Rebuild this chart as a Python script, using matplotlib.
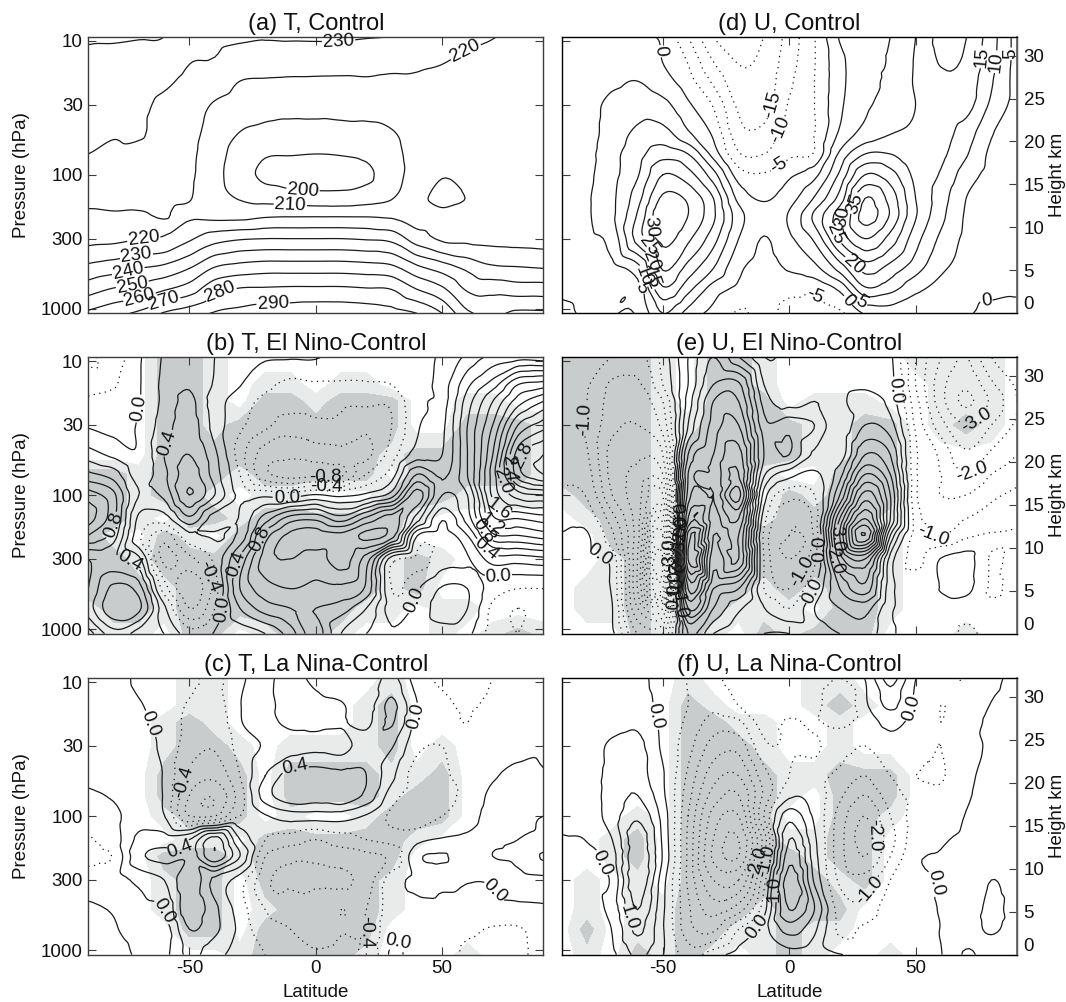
import numpy as np
import matplotlib
matplotlib.use('Agg')
import matplotlib.pyplot as plt
from matplotlib.tri import Triangulation, UniformTriRefiner, CubicTriInterpolator

plt.rcParams['font.family'] = ['Liberation Sans', 'DejaVu Sans']

# grid of the fields (one list per latitude)
lats = [-90, -80, -70, -60, -50, -40, -30, -20, -10, 0, 10, 20, 30, 40, 50, 60, 70, 80, 90]
plevs = [9.33, 15, 20, 30, 50, 70, 100, 150, 200, 300, 500, 700, 1082]

t_control = [
    [241, 238, 237, 235, 232, 230, 227, 222, 219, 217.5, 233, 245, 262],
    [241, 237, 235.5, 233.5, 230.5, 228.5, 226, 222, 219.5, 218, 236, 250, 267],
    [240.5, 236, 234, 232, 231, 227, 225, 222, 219.5, 219.8, 240, 253, 272],
    [240, 235.5, 232, 228, 226, 225, 224, 222, 220.3, 221, 243, 258, 281],
    [233, 230, 227.5, 225, 223, 222, 221.5, 220.5, 218.5, 228.5, 250, 264, 286],
    [233, 229, 226, 219, 215.5, 214, 213, 213.5, 216.5, 236, 261, 276, 291],
    [232, 224, 220, 215, 209.5, 206, 205, 209.5, 216, 239, 264.5, 280, 293],
    [230.8, 225, 219, 213, 207.5, 201, 197.5, 207, 218, 240, 266, 280.5, 295],
    [231, 224.5, 218.5, 212.5, 207, 200.5, 196, 205, 218.5, 240, 266, 281, 296],
    [231.2, 224, 218.5, 212.5, 207, 200, 196, 204, 218.5, 240, 266, 281, 297],
    [231.2, 223.5, 218.5, 213, 207, 200.5, 196, 204, 218.5, 240, 266, 281, 297],
    [230.5, 223, 219, 213.5, 207, 202, 198, 206, 218.5, 239, 265, 280, 296],
    [229.8, 222, 218.5, 215, 209, 207, 206, 209.5, 218, 237, 263, 279, 294],
    [227, 221, 219, 216.5, 214, 213.5, 214, 218, 216.5, 225, 253, 269, 290],
    [224, 220, 218.5, 216.5, 215.5, 216, 219.5, 221.5, 219, 218.5, 246, 261, 280],
    [221.5, 218.5, 217.5, 216.5, 216, 216, 217, 219.8, 219, 218, 238, 248, 262],
    [220.2, 218, 217, 216.5, 216, 216, 216.5, 217.5, 217.5, 217.5, 232, 246, 258],
    [219, 217.5, 216.5, 216, 216, 216, 216, 216.5, 217, 217, 231, 244, 262],
    [218.5, 217, 216.5, 216, 216, 216, 216, 216, 216.5, 216.5, 230, 244, 262],
]

u_control = [
    [2, 2, 2, 2, 2, 2, 2.5, 3, 3, 2.5, 1.5, 0.5, -0.5],
    [3, 3, 3, 3, 3, 3.5, 4, 4.5, 4.5, 4, 2.5, 0.8, 0.3],
    [3, 3.5, 4, 6.5, 7.5, 8.5, 8.5, 9, 9, 7, 3.5, 1, 0.1],
    [1, 3, 5, 8, 11, 13, 14.5, 18, 20.5, 22, 8, 3, 0.5],
    [-1, 0.1, 2, 6.5, 12, 18, 25, 31, 34, 31.5, 25.5, 19.5, 10],
    [-10, -5, -3, 0.8, 6, 15, 22, 29, 30, 26, 18, 12, 3],
    [-20, -14.5, -11, -5.5, -0.8, 3, 12, 20, 21, 17, 10, 3, -1.5],
    [-24, -20, -18.5, -16, -13, -9.5, -2.5, 3.5, 7, 5, 1, -1, -5.5],
    [-20, -18.5, -18, -17, -13.5, -10, -4.5, -0.5, 1.5, -0.2, -1.5, -2.5, -3.5],
    [-13, -12, -11, -9.5, -7.5, -6, -1, 3, 5.5, 4, 0.5, -3.5, -6.5],
    [-5.2, -5.2, -5, -5, -5, -4.5, 3.5, 10.5, 16, 11, 3.5, -3.5, -7],
    [5.5, 3.5, 3.5, 4, 6, 11, 16, 22, 28, 26, 12, 1.5, -6],
    [9, 8.5, 8.5, 9, 12, 20, 30, 40, 42, 35, 22, 14.5, 0.5],
    [10, 10.5, 11, 12, 15, 20, 27, 33, 34.5, 28, 18, 12, 2],
    [15, 15.5, 15.5, 15, 15.5, 16, 18.5, 20, 20.5, 17, 12, 6.5, 0.2],
    [21.5, 20.2, 18.5, 17.5, 16.5, 16, 14.5, 12.5, 11.5, 9, 6, 3.5, 0.5],
    [20.1, 19, 18, 17, 12.5, 10.5, 7.5, 5, 4.5, 4, 3, 1.5, 0.4],
    [12, 11.5, 10.5, 9, 5.3, 4, 3.5, 3, 3, 2.5, 2, 1, -1],
    [3, 3, 3, 3, 3, 2.5, 2.5, 2.5, 2.5, 2, 1.5, 0.5, -0.8],
]

t_elnino = [
    [-0.15, -0.3, -0.15, -0.02, 0.3, 0.65, 1.1, 1.3, 1.0, 0.4, 0.4, 0.5, 0.1],
    [-0.3, -0.22, -0.1, -0.05, 0.15, 0.5, 0.85, 0.85, 0.7, 0.45, 0.85, 0.95, 0.5],
    [-0.03, -0.02, -0.01, 0.02, 0.03, 0.1, 0.2, -0.05, -0.15, 0.25, 0.7, 0.85, 0.3],
    [0.22, 0.25, 0.25, 0.3, 0.4, 0.35, 0.25, -0.1, -0.5, -0.65, -0.3, 0.05, 0.2],
    [0.3, 0.38, 0.45, 0.5, 0.6, 0.7, 0.8, 0.35, -0.05, -0.45, -0.75, -0.6, -0.1],
    [0.2, 0.18, 0.1, 0.12, 0.25, 0.3, 0.4, -0.1, 0.02, -0.15, -0.3, -0.2, 0.02],
    [0.02, 0.01, -0.1, -0.15, -0.3, -0.2, -0.05, 0.02, 0.05, 0.45, 0.6, 0.4, 0.05],
    [0.02, -0.15, -0.25, -0.35, -0.7, -0.75, -0.05, 0.5, 0.9, 1.1, 0.9, 0.7, 0.2],
    [0.02, -0.25, -0.3, -0.5, -0.75, -0.9, -0.1, 0.9, 1.25, 1.2, 1.0, 0.8, 0.5],
    [0.02, -0.22, -0.3, -0.45, -0.7, -0.85, 0.02, 0.95, 1.3, 1.1, 0.95, 0.8, 0.9],
    [-0.1, -0.22, -0.35, -0.45, -0.65, -0.85, -0.05, 0.7, 1.25, 1.3, 0.95, 0.7, 0.4],
    [-0.1, -0.22, -0.35, -0.55, -0.65, -0.4, 0.05, 1.05, 1.45, 0.9, 0.75, 0.4, 0.2],
    [-0.05, -0.2, -0.35, -0.4, -0.3, -0.1, 0.3, 1.3, 1.3, -0.1, -0.2, -0.1, 0.02],
    [-0.1, -0.1, -0.05, -0.03, 0.1, 0.6, 1.1, 0.7, 0.02, -0.25, -0.02, 0.05, 0.05],
    [0.05, 0.1, 0.1, 0.15, 0.2, 0.35, 0.4, 0.02, -0.1, -0.1, 0.22, 0.3, 0.1],
    [0.25, 0.55, 0.7, 0.8, 0.8, 0.8, 0.6, 0.5, 0.2, -0.02, 0.2, 0.2, 0.05],
    [0.45, 0.9, 1.2, 1.4, 1.6, 1.7, 1.65, 1.35, 0.95, 0.3, -0.1, -0.25, -0.3],
    [0.5, 1.4, 1.7, 2.2, 2.7, 2.7, 2.1, 1.4, 1.0, 0.3, -0.2, -0.4, -0.4],
    [0.45, 1.5, 2.0, 2.5, 3.0, 3.0, 2.2, 1.5, 1.1, 0.35, -0.2, -0.3, -0.25],
]

t_lanina = [
    [0.1, 0.1, 0.1, 0.1, 0.05, -0.03, -0.1, -0.22, -0.25, -0.1, 0.03, 0.05, 0.02],
    [0.1, 0.1, 0.1, 0.1, 0.08, 0.02, -0.05, -0.1, -0.18, -0.08, -0.01, 0.01, 0.05],
    [-0.05, 0.02, 0.05, 0.08, 0.1, 0.1, 0.1, 0.25, 0.35, 0.05, -0.05, -0.05, -0.02],
    [-0.15, -0.1, -0.08, -0.05, -0.02, -0.02, 0.01, 0.3, 0.45, 0.2, 0.01, -0.1, -0.05],
    [-0.15, -0.22, -0.25, -0.3, -0.45, -0.6, -0.6, 0.4, 0.45, 0.55, 0.55, 0.4, 0.25],
    [-0.25, -0.3, -0.35, -0.38, -0.55, -0.78, -0.6, 0.9, 0.95, 0.15, 0.25, 0.25, 0.05],
    [-0.05, -0.01, -0.02, -0.12, -0.2, -0.3, -0.2, 0.2, 0.4, -0.1, -0.1, -0.05, -0.05],
    [0.15, 0.15, 0.12, 0.02, 0.2, 0.3, -0.02, -0.2, -0.4, -0.55, -0.4, -0.35, -0.2],
    [0.25, 0.25, 0.25, 0.1, 0.5, 0.55, 0.1, -0.3, -0.55, -0.62, -0.5, -0.4, -0.35],
    [0.15, 0.25, 0.25, 0.15, 0.5, 0.52, 0.1, -0.4, -0.55, -0.65, -0.42, -0.58, -0.35],
    [0.05, 0.22, 0.22, 0.12, 0.45, 0.58, 0.1, -0.3, -0.5, -0.65, -0.4, -0.42, -0.3],
    [0.05, 0.1, 0.15, 0.3, 0.4, 0.35, -0.02, -0.2, -0.45, -0.5, -0.4, -0.4, -0.4],
    [0.25, 0.45, 0.42, 0.22, 0.05, -0.1, -0.25, -0.15, -0.35, -0.1, -0.1, -0.05, 0.03],
    [-0.1, 0.01, -0.05, -0.15, -0.3, -0.3, -0.35, -0.05, 0.15, 0.05, -0.05, -0.1, -0.1],
    [-0.25, -0.15, -0.15, -0.2, -0.25, -0.25, -0.2, 0.02, 0.22, 0.05, -0.05, -0.1, -0.05],
    [-0.3, -0.22, -0.2, -0.15, -0.08, -0.15, -0.1, 0.05, 0.08, 0.01, -0.05, -0.15, -0.25],
    [-0.2, -0.15, -0.1, -0.05, -0.02, 0.05, 0.1, 0.15, 0.2, 0.02, -0.05, -0.22, -0.3],
    [-0.1, -0.05, -0.03, -0.05, 0.05, 0.1, 0.15, 0.2, 0.25, 0.12, -0.05, -0.22, -0.25],
    [-0.05, -0.02, -0.02, -0.02, 0.01, 0.05, 0.2, 0.25, 0.42, 0.15, -0.03, -0.1, -0.1],
]

u_elnino = [
    [-0.6, -0.7, -0.8, -0.8, -0.7, -0.6, -0.4, -0.15, 0.03, 0.1, 0.1, 0.05, 0.02],
    [-0.8, -0.95, -1.0, -1.05, -0.95, -0.8, -0.55, -0.2, 0.05, 0.1, 0.3, 0.4, 0.1],
    [-1.0, -1.6, -1.7, -1.85, -2.2, -2.2, -2.0, -1.3, -0.9, -0.2, -0.1, 0.02, 0.1],
    [-1.2, -1.6, -1.75, -2.0, -2.4, -2.6, -2.8, -2.8, -2.8, -3, -3, -2.5, -1.5],
    [-0.3, -0.5, -1, -1.3, -2, -2.5, -3.5, -4.8, -5.5, -6, -5.5, -3, -1.5],
    [1.0, 1, 1.2, 1.5, 2.5, 3.0, 3.2, 4, 5.2, 5.5, 4, 3, 1.5],
    [2, 2.5, 3, 3.2, 3.5, 3.6, 3.5, 3.3, 3, 2.7, 2.0, 1.5, 0.5],
    [1.0, 2.6, 3, 3.5, 4.2, 4.5, 5.2, 4, 3.5, 3.5, 1.5, 0.6, 0.2],
    [0.02, 0.5, 0.8, 1.2, 1.5, 1.1, 0.3, -0.3, -0.6, -0.5, -0.5, 0.02, 0.5],
    [0.2, 0.2, 0.3, 1.3, 1.5, 0.2, -0.8, -1.4, -1.5, -1.5, -1.0, -0.5, 0.5],
    [0.3, 0.2, 0.5, 1.0, 0.4, -0.1, -0.5, -0.8, -0.9, -0.6, 0.02, 0.5, 0.3],
    [0.2, 0.3, 0.4, 0.1, 0.2, 0.8, 1.5, 3.0, 3.5, 2.7, 1.5, 1.0, 0.5],
    [0.5, 0.4, 0.8, 1.0, 2.0, 3.0, 4.2, 5.5, 6.5, 3.5, 2.3, 1.2, 0.8],
    [0.1, 0.2, 0.3, 0.7, 1.5, 2, 2.5, 2.5, 1.5, 0.3, 0.2, 0.1, 0.1],
    [-1.5, -1.5, -1.3, -1.1, -0.9, -0.9, -0.9, -0.7, -0.7, -0.6, -0.3, -0.2, -0.2],
    [-2.5, -2.8, -2.8, -2.3, -1.6, -1.5, -1.5, -1.1, -1, 0.02, 0.02, -0.2, -0.1],
    [-3, -3.4, -3.6, -3.0, -2.4, -2, -1.5, -1, -0.6, 0.2, 0.15, -0.3, -0.6],
    [-2.0, -2.6, -2.9, -2.5, -1.9, -1.5, -1.1, -0.8, -0.45, -0.55, -0.55, -0.4, -0.3],
    [-1.5, -1.9, -2, -1.9, -1.5, -1.2, -0.9, -0.7, -0.4, -0.3, -0.3, -0.2, -0.1],
]

u_lanina = [
    [0.1, 0.1, 0.1, 0.1, 0.1, 0.1, 0.1, -0.03, -0.1, -0.1, -0.1, -0.1, -0.15],
    [0.15, 0.15, 0.15, 0.2, 0.25, 0.25, 0.2, 0.02, -0.1, -0.15, -0.2, -0.2, -0.1],
    [0.2, 0.25, 0.3, 0.6, 0.65, 0.7, 0.75, 0.5, 0.3, 0.1, 0.2, 0.02, -0.1],
    [0.2, 0.3, 0.4, 0.65, 0.7, 1.0, 1.4, 1.8, 1.95, 1.9, 1.5, 1.1, 0.6],
    [-0.3, -0.2, -0.15, -0.1, 0.05, 0.1, 0.3, 0.4, 0.45, 0.2, 0.1, 0.05, 0.02],
    [-0.5, -0.5, -0.6, -0.8, -1.1, -1.3, -1.5, -1.6, -1.6, -1.6, -1.4, -1.3, -0.7],
    [-0.6, -0.9, -1.2, -1.7, -2.3, -2.7, -3.2, -3.5, -3.6, -3.0, -2.2, -1.6, -0.2],
    [-0.2, -0.5, -1.1, -1.8, -2.5, -3, -3.5, -4, -4, -3, -1.7, -0.5, 0.2],
    [-0.15, -0.2, -0.3, -0.6, -1.2, -1.4, -1, -1.8, -1.5, -0.7, -0.2, 0.3, 0.1],
    [-0.15, -0.3, -0.55, -0.55, -0.5, -0.1, 0.8, 1.5, 1.8, 2.3, 2.0, 1.2, 0.3],
    [-0.15, -0.3, -0.45, -0.55, -0.4, -0.2, -0.1, 0.1, 0.2, 0.4, 1.0, 0.6, 0.2],
    [-0.5, -1, -0.6, -0.35, -0.6, -0.9, -1.2, -1.3, -1.3, -1.1, -0.7, -0.6, 0.02],
    [0.02, -0.1, -0.3, -0.5, -1.0, -1.5, -2, -2.2, -2.0, -1.3, -0.8, -0.4, -0.1],
    [1.2, 0.6, 0.15, -0.2, -0.5, -0.7, -1, -1.2, -1, -0.5, -0.2, -0.1, -0.05],
    [0.02, -0.1, -0.2, -0.3, -0.5, -0.4, -0.3, -0.2, -0.1, -0.1, -0.1, -0.1, -0.1],
    [-0.4, -0.5, -0.5, -0.5, -0.55, -0.4, -0.3, -0.05, 0.02, 0.02, 0.02, 0.01, -0.02],
    [-0.5, -0.3, -0.25, -0.15, -0.1, -0.05, 0.02, 0.1, 0.1, 0.15, 0.2, 0.3, 0.55],
    [-0.1, 0.02, 0.1, 0.05, 0.1, 0.1, 0.15, 0.2, 0.25, 0.5, 0.6, 0.55, 0.3],
    [0.1, 0.1, 0.1, 0.1, 0.1, 0.15, 0.2, 0.2, 0.2, 0.3, 0.3, 0.3, 0.2],
]

# significance: 0 none, 1 light, 2 dark (one string per pressure level, one digit per latitude)
sig_t_elnino = ["0002210000000000000", "0002210110110000000", "0002210221222001100",
                "0002212222222002221", "0002222222221222221", "2212221222220222221",
                "2212210110002221111", "2210221222222100000", "2102102222222000000",
                "2212222222221210000", "2221222222221200000", "1221222222211011000",
                "1110220122100010121"]
sig_t_lanina = ["0000110000001000000", "0000110000012000000", "0001210000012000000",
                "0001221011112010000", "0002222022221120000", "0002222022221220000",
                "0001222010012220000", "0000110222222100000", "0002221222222000000",
                "0001220222221000000", "0001220122221000000", "0000220222220000000",
                "0000001222210001000"]
sig_u_elnino = ["2222102210000011110", "2222102210000001110", "2222102220111001110",
                "2222112222112201210", "2222122222112200000", "2222122210022200000",
                "1222122202122200000", "0122122212222100000", "0022122222222100000",
                "0012122222222100000", "0112122212122100000", "0112122111022100000",
                "0002121021222000100"]
sig_u_lanina = ["0000010000110000000", "0000021000121000000", "0000022110010000000",
                "0000022210010000000", "0000022221122200000", "0000022221022200000",
                "0001022220022100000", "0012022221122000000", "0012022222122000000",
                "0101022222212000000", "0101122212220000000", "0201122112110000000",
                "0102121012100100000"]

# contour labels: level, latitude, pressure
labels_a = [(230, 9, 10), (220, 60, 12.8), (200, -5, 126), (210, -10, 160), (220, -68, 316),
            (230, -71, 400), (240, -74.5, 500), (250, -73, 600), (260, -70, 790), (270, -60, 890),
            (280, -37, 820), (290, -17, 860)]
labels_d = [(0, -51.5, 12), (15, 76, 13.2), (10, 81, 14.3), (5, 86, 12.5), (-15, -9.7, 29),
            (-10, -5.8, 45), (-5, -4.3, 85), (-5, 11, 746), (0, 23.5, 861), (5, 29.5, 861),
            (20, 26, 459), (25, 21.5, 259), (30, 20, 205), (35, 25.5, 163), (0, 78, 861),
            (5, -64, 767), (10, -61, 593), (15, -56, 628), (20, -55.5, 446), (25, -55.5, 335),
            (30, -54.4, 244)]
labels_b = [(0.0, -68.2, 23), (0.4, -57, 42), (0.8, -79.4, 171), (0.4, -72.8, 286), (-0.4, -42.5, 405),
            (0.0, -36, 720), (0.4, -34.6, 315), (0.8, -20.7, 217), (0.0, -11.5, 102), (-0.8, 3.7, 72),
            (-0.4, 4.3, 82), (0.0, 42.6, 640), (0.0, 73, 460), (0.4, 65.7, 272), (0.8, 65, 190),
            (1.2, 70.3, 162), (1.6, 71, 135), (2.0, 73, 80), (2.4, 76, 63), (2.8, 80.6, 49)]
labels_c = [(0.0, -67.2, 21), (-0.4, -53.5, 55), (0.4, -8.2, 45), (0.0, 39.3, 18), (0.4, -53, 179),
            (0.0, -58.3, 490), (-0.4, 20, 741), (0.0, 34.7, 722), (0.0, 74.3, 336)]
labels_e = [(-1.0, -82.7, 27), (0.0, -74.8, 272), (0.0, 44, 16.5), (-3.0, 75.6, 30), (-2.0, 72, 66),
            (-1.0, 57, 221), (3.0, 19.5, 210), (2.0, 15, 323), (0.0, 9, 514), (-1.0, 7, 405),
            (0.0, 14, 251), (0.0, -46, 145), (2.0, -44.7, 171), (3.0, -46, 210), (-3.0, -51, 286),
            (-2.0, -52, 385), (-1.0, -50, 475), (0.0, -48, 575), (1.0, -43, 680)]
labels_f = [(0.0, -55, 18), (0.0, -70.2, 224), (1.0, -63, 560), (1.0, -5.6, 347), (0.0, -14, 647),
            (-2.0, -15.5, 218), (-1.0, -11.5, 210), (-2.0, 34, 139), (-1.0, 30.7, 356), (0.0, 48.5, 15.8),
            (0.0, 60.4, 318)]

titles = ['(a) T, Control', '(b) T, El Nino-Control', '(c) T, La Nina-Control',
          '(d) U, Control', '(e) U, El Nino-Control', '(f) U, La Nina-Control']
pressure_ticks = [10, 30, 100, 300, 1000]
height_ticks = [0, 5, 10, 15, 20, 25, 30]
lat_ticks = [-50, 0, 50]

W, H = 1066, 1002
LINE = '#1a1a1a'
FRAME = '#3c3c3c'
LIGHT = '#e9ebea'
DARK = '#c9cccd'
FS = 13.5


def make_axes(left, top):
    return fig.add_axes([left / W, 1 - (top + 276.6) / H, 455 / W, 276.6 / H])


def draw_panel(ax, field, levels, labels, fmt, title, sig=None):
    z = np.array(field, dtype=float).T
    if sig is not None:
        s = np.array([[int(c) for c in row] for row in sig], dtype=float)
        ax.contourf(lats, plevs, s, levels=[0.5, 1.5, 2.5], colors=[LIGHT, DARK])
    # matplotlib's own tri refiner rounds the contours off
    xx, yy = np.meshgrid(np.array(lats) / 10.0, np.log10(plevs) * 5)
    tri = Triangulation(xx.ravel(), yy.ravel())
    interp = CubicTriInterpolator(tri, z.ravel(), kind='geom')
    fine, fine_z = UniformTriRefiner(tri).refine_field(z.ravel(), interp, subdiv=3)
    fine_p = Triangulation(fine.x * 10, 10 ** (fine.y / 5), fine.triangles)
    # one contour call per level so a label can be tied to its own level
    sets = {}
    for lv in levels:
        style = 'solid' if lv >= 0 else (0, (1, 3.5))
        sets[lv] = ax.tricontour(fine_p, fine_z, levels=[lv], colors=LINE, linewidths=0.9, linestyles=[style])
    ax.set_yscale('log')
    ax.set_xlim(-90, 90)
    ax.set_ylim(1082, 9.33)
    ax.set_xticks(lat_ticks)
    ax.set_yticks(pressure_ticks)
    ax.minorticks_off()
    ax.tick_params(which='both', direction='in', length=6, width=0.8, color=FRAME, top=True, right=True,
                   labelsize=FS, labelcolor='#111111', pad=4)
    ax.set_title(title, fontsize=17, color='#111111', pad=5)
    for sp in ax.spines.values():
        sp.set_color(FRAME)
        sp.set_linewidth(1.0)
    for lv in levels:
        spots = [(la, p) for l, la, p in labels if l == lv]
        if spots and len(sets[lv].get_paths()[0].vertices) > 0:
            texts = sets[lv].clabel(manual=spots, fmt=fmt, fontsize=FS, inline=True, inline_spacing=1,
                                    colors='#111111')
            for t in texts:
                t.set_clip_on(False)


def step_levels(lo, hi, step):
    # + 0.0 turns a rounded -0.0 into 0.0
    return [float(v) + 0.0 for v in np.round(np.arange(lo, hi, step), 1)]


fig = plt.figure(figsize=(W / 100, H / 100), dpi=100)

tops = [36.7, 357, 678]
left_x, right_x = 88.3, 561.7

panels_left = [(t_control, step_levels(200, 300, 10), labels_a, '%d', None),
               (t_elnino, step_levels(-1.0, 3.3, 0.2), labels_b, '%.1f', sig_t_elnino),
               (t_lanina, step_levels(-1.0, 1.3, 0.2), labels_c, '%.1f', sig_t_lanina)]
panels_right = [(u_control, step_levels(-20, 45, 5), labels_d, '%d', None),
                (u_elnino, step_levels(-6.0, 7.5, 0.5), labels_e, '%.1f', sig_u_elnino),
                (u_lanina, step_levels(-5.0, 3.5, 0.5), labels_f, '%.1f', sig_u_lanina)]

for i in range(3):
    ax = make_axes(left_x, tops[i])
    f, lv, lb, fm, sg = panels_left[i]
    draw_panel(ax, f, lv, lb, fm, titles[i], sg)
    ax.set_yticklabels([str(p) for p in pressure_ticks])
    ax.set_ylabel('Pressure (hPa)', fontsize=FS, color='#111111', labelpad=8)
    if i == 2:
        ax.set_xticklabels([str(v) for v in lat_ticks])
        ax.set_xlabel('Latitude', fontsize=FS, color='#111111', labelpad=5)
    else:
        ax.set_xticklabels([])

    ax = make_axes(right_x, tops[i])
    f, lv, lb, fm, sg = panels_right[i]
    draw_panel(ax, f, lv, lb, fm, titles[i + 3], sg)
    ax.set_yticklabels([])
    ax.tick_params(right=False)
    if i == 2:
        ax.set_xticklabels([str(v) for v in lat_ticks])
        ax.set_xlabel('Latitude', fontsize=FS, color='#111111', labelpad=5)
    else:
        ax.set_xticklabels([])

    tw = ax.twinx()
    tw.set_ylim(0, 32.2)
    tw.set_yticks(height_ticks)
    tw.tick_params(direction='in', length=6, width=0.8, color=FRAME, labelsize=FS, labelcolor='#111111', pad=5)
    tw.get_yticklabels()[0].set_va('bottom')
    tw.set_ylabel('Height km', fontsize=FS, color='#111111', labelpad=3)
    tw.spines['right'].set_color('#666666')
    tw.spines['right'].set_linewidth(1.3)

fig.savefig('out.png', dpi=100)
